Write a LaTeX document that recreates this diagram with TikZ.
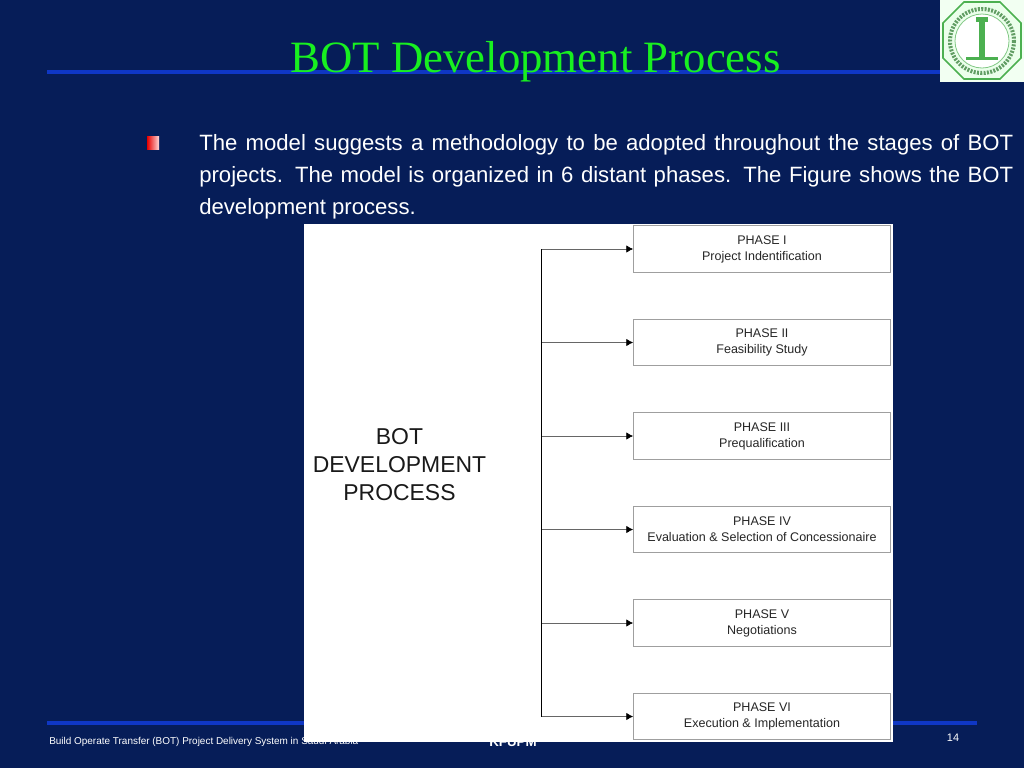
\documentclass[tikz,border=0pt]{standalone}
\usepackage{fontspec}
\setmainfont{Liberation Sans}
\newfontfamily\titlefont{Liberation Serif}
\usetikzlibrary{arrows.meta}
\definecolor{slidebg}{HTML}{061D58}
\definecolor{ruleblue}{HTML}{0F37C4}
\definecolor{titlegreen}{HTML}{18F020}
\definecolor{logogreen}{HTML}{4CB050}
\tikzset{
  phasebox/.style={draw=gray!75, line width=0.9pt, fill=white, minimum width=192.5pt, minimum height=35pt, inner sep=0pt, align=center, font=\fontsize{9.4pt}{12pt}\selectfont, text=black!85},
  feeder/.style={draw=black!60, line width=0.5pt, -{Latex[black,length=5pt,width=5.5pt]}},
  rulebar/.style={ruleblue, line width=2.3pt}
}
\begin{document}
\begin{tikzpicture}[x=0.75pt,y=-0.75pt]
    \useasboundingbox (0,0) rectangle (1024,768);
    \fill[slidebg] (0,0) rectangle (1024,768);

    \draw[rulebar] (47,72) -- (940,72);
    \draw[rulebar] (47,723) -- (977,723);
    \node[anchor=base, text=titlegreen, inner sep=0pt, font=\titlefont\fontsize{33.6pt}{36pt}\selectfont] (title) at (535.5,72.5) {BOT Development Process};

    % logo
    \fill[green!5!white] (940,0) rectangle (1024,82);
    \draw[logogreen, line width=1.2pt, fill=green!8!white] (964,2) -- (1000,2) -- (1021,23) -- (1021,58) -- (1000,79) -- (964,79) -- (943,58) -- (943,23) -- cycle;
    \draw[logogreen!60!gray, line width=3pt, dash pattern=on 1.5pt off 1pt] (982,41) circle (32);
    \draw[logogreen!70, line width=0.6pt, fill=white] (982,41) circle (27);
    \fill[logogreen] (979,20) rectangle (985,57);
    \fill[logogreen] (976,17) rectangle (988,22);
    \fill[logogreen] (966,57) rectangle (998,60);

    % bullet
    \shade[left color=red!90!black, right color=red!15!white] (147,136) rectangle (159,149);

    \node[anchor=north west, text=white, inner sep=0pt, align=left, font=\fontsize{16.6pt}{24pt}\selectfont] (intro) at (199,134) {\makebox[610.5pt][s]{The model suggests a methodology to be adopted throughout the stages of BOT}\\\makebox[610.5pt][s]{projects. The model is organized in 6 distant phases. The Figure shows the BOT}\\development process.};

    % footer, partly under the panel
    \node[anchor=base west, text=white!85, inner sep=0pt, font=\fontsize{7.47pt}{10pt}\selectfont] (footer) at (49,744) {Build Operate Transfer (BOT) Project Delivery System in Saudi Arabia};
    \node[anchor=base, text=white, inner sep=0pt, font=\bfseries\fontsize{10pt}{12pt}\selectfont] (kfupm) at (513,746) {KFUPM};
    \node[anchor=base, text=white!85, inner sep=0pt, font=\fontsize{8.2pt}{10pt}\selectfont] (pagenum) at (953,741) {14};

    \fill[white] (304,224) rectangle (893,742);

    \node[align=center, text=black!90, font=\fontsize{17.2pt}{21pt}\selectfont] (bot) at (399.5,465) {BOT\\DEVELOPMENT\\PROCESS};

    \node[phasebox] (phase1) at (762,249) {PHASE I\\Project Indentification};
    \node[phasebox] (phase2) at (762,342.5) {PHASE II\\Feasibility Study};
    \node[phasebox] (phase3) at (762,436) {PHASE III\\Prequalification};
    \node[phasebox] (phase4) at (762,529.5) {PHASE IV\\Evaluation \& Selection of Concessionaire};
    \node[phasebox] (phase5) at (762,623) {PHASE V\\Negotiations};
    \node[phasebox] (phase6) at (762,716.5) {PHASE VI\\Execution \& Implementation};

    \foreach \n in {1,...,6} {
      \coordinate (trunk\n) at (541,0 |- phase\n.west);
      \draw[feeder] (trunk\n) -- (phase\n.west);
    }
    \draw[black, line width=0.7pt] (trunk1) -- (trunk6);
\end{tikzpicture}
\end{document}
